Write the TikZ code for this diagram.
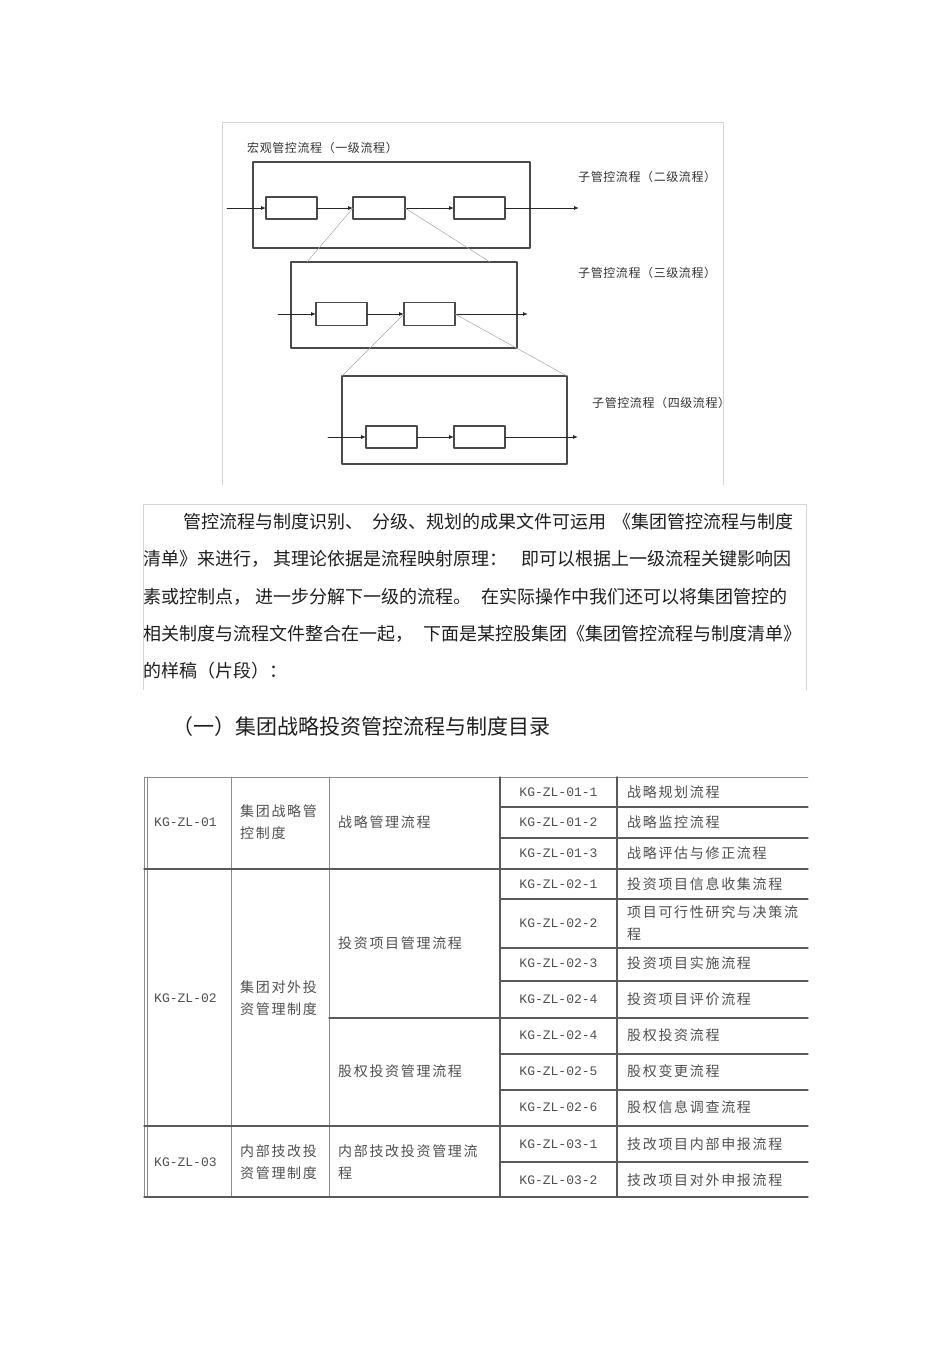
\documentclass[tikz,border=0pt]{standalone}
\usepackage{fontspec}
\newfontfamily\cjk{Noto Sans CJK SC}
\newfontfamily\cjklab[LetterSpace=5]{Noto Sans CJK SC}
\newfontfamily\cjktab[LetterSpace=12]{Noto Sans CJK SC}
\newfontfamily\codefont{Liberation Mono}
\usetikzlibrary{positioning,arrows.meta}
\definecolor{framegray}{HTML}{D4D4D4}
\definecolor{boxgray}{HTML}{4A4A4A}
\definecolor{zoomgray}{HTML}{A8A8A8}
\definecolor{rulegray}{HTML}{5A5A5A}
\definecolor{textgray}{HTML}{505050}
\tikzset{
  bigbox/.style={draw=boxgray, line width=1.3pt, inner sep=0pt, outer sep=0pt},
  procbox/.style={draw=boxgray, line width=1.1pt, fill=white, inner sep=0pt, outer sep=0pt,
    minimum width=51pt, minimum height=22pt},
  flow/.style={-{Latex[length=5pt,width=4pt]}, line width=0.9pt, draw=black!85},
  zoomline/.style={draw=zoomgray, line width=0.5pt},
  sublabel/.style={anchor=west, inner sep=0pt, text=black!80, font=\cjklab\fontsize{12}{13}\selectfont},
  para/.style={anchor=west, inner sep=0pt, text=black!88, font=\cjk\fontsize{18}{20}\selectfont},
  celltext/.style={anchor=west, inner sep=0pt, align=left, text=textgray, font=\cjktab\fontsize{14}{22}\selectfont},
  codetext/.style={inner sep=0pt, text=textgray, font=\codefont\fontsize{13}{14}\selectfont},
  tline/.style={draw=rulegray, line width=1.1pt},
  tlight/.style={draw=black!45, line width=1pt},
}
\begin{document}
\begin{tikzpicture}[x=1pt, y=-1pt, line cap=round, line join=round]

% Pagina
\fill[white] (0,0) rectangle (950,1345);
\useasboundingbox (0,0) rectangle (950,1345);

% Cornice della figura
\draw[framegray, line width=0.8pt] (222,485) -- (222,122) -- (723,122) -- (723,485);
\node[sublabel] (title1) at (247,148) {宏观管控流程（一级流程）};

% Primo livello
\node[bigbox, minimum width=277pt, minimum height=86pt] (lev1) at (391.5,205) {};
\node[procbox] (s1a) at (291.5,208) {};
\node[procbox, minimum width=52pt] (s1b) at (379,208) {};
\node[procbox] (s1c) at (479.5,208) {};
\coordinate (in1) at (227,208);
\coordinate (out1) at (579,208);
\draw[flow] (in1) -- (s1a);
\draw[flow] (s1a) -- (s1b);
\draw[flow] (s1b) -- (s1c);
\draw[flow] (s1c) -- (out1);
\node[sublabel] (lab2) at (578,177) {子管控流程（二级流程）};

% Secondo livello
\node[bigbox, minimum width=226pt, minimum height=86pt] (lev2) at (404,305) {};
\node[procbox, minimum height=23pt] (s2a) at (341.5,314) {};
\node[procbox, minimum height=23pt] (s2b) at (429.5,314) {};
\coordinate (in2) at (278,314);
\coordinate (out2) at (528,314);
\draw[flow] (in2) -- (s2a);
\draw[flow] (s2a) -- (s2b);
\draw[flow] (s2b) -- (out2);
\node[sublabel] (lab3) at (578,273) {子管控流程（三级流程）};

% Linee di ingrandimento 1-2
\coordinate (z2l) at (307,262);
\coordinate (z2r) at (490,262);
\draw[zoomline] (s1b.west) -- (z2l);
\draw[zoomline] (s1b.east) -- (z2r);

% Terzo livello
\node[bigbox, minimum width=225pt, minimum height=88pt] (lev3) at (454.5,420) {};
\node[procbox] (s3a) at (391.5,437) {};
\node[procbox] (s3b) at (479.5,437) {};
\coordinate (in3) at (328,437);
\coordinate (out3) at (578,437);
\draw[flow] (in3) -- (s3a);
\draw[flow] (s3a) -- (s3b);
\draw[flow] (s3b) -- (out3);
\node[sublabel] (lab4) at (592,403) {子管控流程（四级流程）};

% Linee di ingrandimento 2-3
\draw[zoomline] (s2b.west) -- (lev3.north west);
\draw[zoomline] (s2b.east) -- (lev3.north east);

% Paragrafo
\draw[framegray, line width=0.8pt] (143,690) -- (143,504) -- (806,504) -- (806,690);
\node[para] (p1a) at (183,522) {管控流程与制度识别、};
\node[para] (p1b) at (372,522) {分级、规划的成果文件可运用};
\node[para] (p1c) at (613,522) {《集团管控流程与制度};
\node[para] (p2a) at (143,559) {清单》来进行，};
\node[para] (p2b) at (273,559) {其理论依据是流程映射原理：};
\node[para] (p2c) at (521,559) {即可以根据上一级流程关键影响因};
\node[para] (p3a) at (143,597) {素或控制点，};
\node[para] (p3b) at (255,597) {进一步分解下一级的流程。};
\node[para] (p3c) at (481,597) {在实际操作中我们还可以将集团管控的};
\node[para] (p4a) at (143,634) {相关制度与流程文件整合在一起，};
\node[para] (p4b) at (423,634) {下面是某控股集团《集团管控流程与制度清单》};
\node[para] (p5a) at (143,671) {的样稿（片段）：};

% Titolo della tabella
\node[anchor=west, inner sep=0pt, text=black!88, font=\cjk\fontsize{21}{23}\selectfont] (head) at (172.5,727) {（一）集团战略投资管控流程与制度目录};

% Tabella: linee
\draw[tlight, line width=0.6pt] (145,777) -- (808,777);
\draw[tlight] (144,777) -- (144,1197);
\draw[tlight] (147.5,777) -- (147.5,1197);
\draw[tlight] (231,777) -- (231,1197);
\draw[tlight] (329,777) -- (329,1197);
\draw[tline] (500,777) -- (500,1197);
\draw[tline, line width=1.8pt] (617,777) -- (617,1197);
\draw[tline] (500,807) -- (808,807);
\draw[tline] (500,838) -- (808,838);
\draw[tline, line width=1.4pt] (144,869) -- (808,869);
\draw[tline] (500,899) -- (808,899);
\draw[tline] (500,948) -- (808,948);
\draw[tline] (500,981) -- (808,981);
\draw[tline, line width=1.4pt] (329,1018) -- (808,1018);
\draw[tline] (500,1054) -- (808,1054);
\draw[tline] (500,1090) -- (808,1090);
\draw[tline, line width=1.4pt] (144,1126) -- (808,1126);
\draw[tline] (500,1162) -- (808,1162);
\draw[tline, line width=1.4pt] (144,1197) -- (808,1197);

% Tabella: gruppo 01
\node[codetext, anchor=west] (g1) at (154,822) {KG-ZL-01};
\node[celltext] (d1) at (240,822) {集团战略管\\控制度};
\node[celltext] (f1) at (338,822) {战略管理流程};
\node[codetext] (k11) at (558.5,792) {KG-ZL-01-1};
\node[codetext] (k12) at (558.5,822) {KG-ZL-01-2};
\node[codetext] (k13) at (558.5,853) {KG-ZL-01-3};
\node[celltext] (n11) at (627,792) {战略规划流程};
\node[celltext] (n12) at (627,822) {战略监控流程};
\node[celltext] (n13) at (627,853) {战略评估与修正流程};

% Tabella: gruppo 02
\node[codetext, anchor=west] (g2) at (154,998) {KG-ZL-02};
\node[celltext] (d2) at (240,998) {集团对外投\\资管理制度};
\node[celltext] (f2a) at (338,943) {投资项目管理流程};
\node[celltext] (f2b) at (338,1071) {股权投资管理流程};
\node[codetext] (k21) at (558.5,884) {KG-ZL-02-1};
\node[codetext] (k22) at (558.5,923) {KG-ZL-02-2};
\node[codetext] (k23) at (558.5,963) {KG-ZL-02-3};
\node[codetext] (k24) at (558.5,999) {KG-ZL-02-4};
\node[codetext] (k25) at (558.5,1035) {KG-ZL-02-4};
\node[codetext] (k26) at (558.5,1071) {KG-ZL-02-5};
\node[codetext] (k27) at (558.5,1107) {KG-ZL-02-6};
\node[celltext] (n21) at (627,884) {投资项目信息收集流程};
\node[celltext] (n22) at (627,923) {项目可行性研究与决策流\\程};
\node[celltext] (n23) at (627,963) {投资项目实施流程};
\node[celltext] (n24) at (627,999) {投资项目评价流程};
\node[celltext] (n25) at (627,1035) {股权投资流程};
\node[celltext] (n26) at (627,1071) {股权变更流程};
\node[celltext] (n27) at (627,1107) {股权信息调查流程};

% Tabella: gruppo 03
\node[codetext, anchor=west] (g3) at (154,1162) {KG-ZL-03};
\node[celltext] (d3) at (240,1162) {内部技改投\\资管理制度};
\node[celltext] (f3) at (338,1162) {内部技改投资管理流\\程};
\node[codetext] (k31) at (558.5,1144) {KG-ZL-03-1};
\node[codetext] (k32) at (558.5,1180) {KG-ZL-03-2};
\node[celltext] (n31) at (627,1144) {技改项目内部申报流程};
\node[celltext] (n32) at (627,1180) {技改项目对外申报流程};

\end{tikzpicture}
\end{document}
